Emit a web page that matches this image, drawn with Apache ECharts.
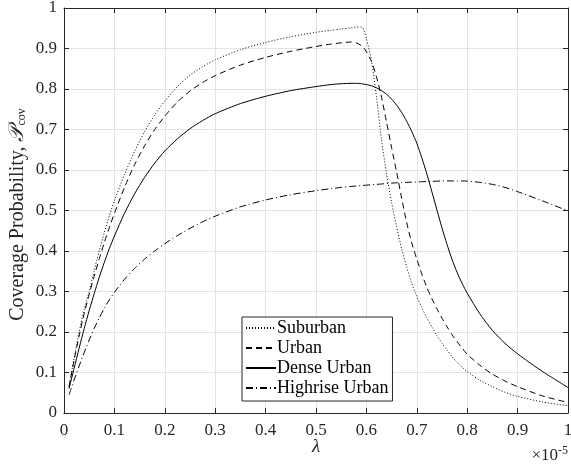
<!DOCTYPE html>
<html>
<head>
<meta charset="utf-8">
<script src="https://cdn.jsdelivr.net/npm/echarts@6/dist/echarts.min.js"></script>
<style>
  html, body { margin: 0; padding: 0; background: #fff; }
  #chart { width: 571px; height: 465px; }
</style>
</head>
<body>
<div id="chart"></div>
<script>
// lambda (x 1e-5)
const lambda = [
  0.01, 0.02, 0.03, 0.04, 0.05, 0.06, 0.07, 0.08, 0.09, 0.1,
  0.12, 0.14, 0.16, 0.18, 0.2, 0.225, 0.25, 0.275, 0.3,
  0.35, 0.4, 0.45, 0.5, 0.53, 0.55, 0.57, 0.58, 0.59, 0.595,
  0.6, 0.61, 0.62, 0.63, 0.64, 0.65, 0.66, 0.67, 0.68, 0.69,
  0.7, 0.71, 0.72, 0.73, 0.74, 0.75, 0.76, 0.77, 0.78, 0.79,
  0.8, 0.825, 0.85, 0.875, 0.9, 0.95, 1.0,
];

const suburban = [
  0.065, 0.135, 0.2, 0.255, 0.30, 0.352, 0.401, 0.446, 0.487, 0.524,
  0.589, 0.646, 0.695, 0.736, 0.77, 0.806, 0.834, 0.855, 0.872,
  0.897, 0.915, 0.929, 0.94, 0.945, 0.948, 0.951, 0.953, 0.953, 0.945,
  0.925, 0.87, 0.78, 0.675, 0.59, 0.52, 0.46, 0.405, 0.36, 0.32,
  0.288, 0.26, 0.235, 0.212, 0.191, 0.172, 0.155, 0.139, 0.125, 0.113,
  0.102, 0.081, 0.065, 0.051, 0.041, 0.027, 0.018,
];

const urban = [
  0.065, 0.13, 0.19, 0.245, 0.293, 0.338, 0.381, 0.421, 0.458, 0.493,
  0.557, 0.613, 0.66, 0.70, 0.733, 0.768, 0.795, 0.816, 0.833,
  0.859, 0.878, 0.893, 0.905, 0.911, 0.914, 0.916, 0.914, 0.907, 0.901,
  0.892, 0.868, 0.83, 0.78, 0.718, 0.655, 0.595, 0.53, 0.47, 0.42,
  0.38, 0.343, 0.31, 0.282, 0.257, 0.234, 0.213, 0.193, 0.176, 0.16,
  0.145, 0.118, 0.096, 0.079, 0.065, 0.042, 0.026,
];

const denseUrban = [
  0.06, 0.11, 0.16, 0.208, 0.253, 0.295, 0.335, 0.372, 0.406, 0.437,
  0.493, 0.541, 0.582, 0.617, 0.647, 0.677, 0.702, 0.722, 0.739,
  0.764, 0.782, 0.796, 0.806, 0.811, 0.813, 0.814, 0.814, 0.813, 0.812,
  0.811, 0.808, 0.803, 0.796, 0.787, 0.775, 0.76, 0.742, 0.72, 0.695,
  0.666, 0.63, 0.59, 0.546, 0.501, 0.457, 0.416, 0.379, 0.347, 0.32,
  0.296, 0.245, 0.204, 0.172, 0.146, 0.102, 0.063,
];

const highriseUrban = [
  0.045, 0.081, 0.116, 0.149, 0.18, 0.209, 0.235, 0.2585, 0.2795, 0.298,
  0.33, 0.357, 0.38, 0.40, 0.418, 0.438, 0.456, 0.472, 0.486,
  0.509, 0.526, 0.539, 0.549, 0.554, 0.557, 0.5595, 0.5605, 0.5615, 0.562,
  0.5625, 0.5635, 0.5645, 0.5655, 0.5665, 0.5675, 0.5685, 0.569, 0.5695, 0.57,
  0.5705, 0.571, 0.5715, 0.572, 0.5725, 0.573, 0.573, 0.573, 0.573, 0.573,
  0.5725, 0.5695, 0.5645, 0.557, 0.5465, 0.5235, 0.499,
];

const seriesNames = ["Suburban", "Urban", "Dense Urban", "Highrise Urban"];

const serif = "'Liberation Serif', 'DejaVu Serif', serif";
const axisColor = "#262626";
const fs = 17;

const chart = echarts.init(document.getElementById("chart"));

const pairs = (ys) => lambda.map((x, i) => [x, ys[i]]);

const lineSeries = (name, ys, dash) => ({
  name: name,
  type: "line",
  data: pairs(ys),
  symbol: "none",
  showSymbol: false,
  smooth: 0.25,
  xAxisIndex: 0,
  yAxisIndex: 0,
  lineStyle: {
    color: "#000",
    width: 1,
    type: dash,
  },
  itemStyle: { color: "#000" },
});

const tickLabel = (v) => {
  if (v === 0) return "0";
  if (Math.abs(v - 1) < 1e-9) return "1";
  return v.toFixed(1);
};

const options = {
  backgroundColor: "#fff",
  animation: false,
  grid: {
    left: 64,
    right: 3,
    top: 8,
    bottom: 52,
    containLabel: false,
    outerBoundsMode: "none",
  },
  legend: {
    orient: "vertical",
    left: 242,
    top: 317,
    data: seriesNames,
    itemWidth: 30,
    itemHeight: 14,
    itemGap: 2,
    padding: [2, 4, 4, 3],
    borderColor: axisColor,
    borderWidth: 1,
    backgroundColor: "#fff",
    itemStyle: { opacity: 0, color: "rgba(0,0,0,0)", borderWidth: 0 },
    textStyle: {
      fontFamily: serif,
      fontSize: 18,
      color: "#000",
      padding: [0, 0, 0, -4],
    },
  },
  xAxis: [
    {
      type: "value",
      min: 0,
      max: 1,
      interval: 0.1,
      position: "bottom",
      name: "λ",
      nameLocation: "middle",
      nameGap: 24,
      nameMoveOverlap: false,
      nameTextStyle: {
        fontFamily: serif,
        fontStyle: "italic",
        fontSize: 19,
        color: axisColor,
      },
      axisLine: { lineStyle: { color: axisColor, width: 1 } },
      axisTick: { inside: true, length: 5, lineStyle: { color: axisColor } },
      axisLabel: {
        fontFamily: serif,
        fontSize: fs,
        color: axisColor,
        margin: 9,
        formatter: tickLabel,
      },
      splitLine: { show: true, lineStyle: { color: "#e3e3e3", width: 1 } },
    },
    {
      type: "value",
      min: 0,
      max: 1,
      interval: 0.1,
      position: "top",
      axisLine: { onZero: false, lineStyle: { color: axisColor, width: 1 } },
      axisTick: { inside: true, length: 5, lineStyle: { color: axisColor } },
      axisLabel: { show: false },
      splitLine: { show: false },
    },
  ],
  yAxis: [
    {
      type: "value",
      min: 0,
      max: 1,
      interval: 0.1,
      position: "left",
      name: "Coverage Probability, {p|𝒫}{sub|cov}",
      nameLocation: "middle",
      nameGap: 36,
      nameRotate: 90,
      nameMoveOverlap: false,
      nameTextStyle: {
        fontFamily: serif,
        fontSize: 20,
        color: axisColor,
        padding: [0, 8, 0, 0],
        rich: {
          p: { fontFamily: serif, fontSize: 21, color: axisColor, fontStyle: "italic" },
          sub: {
            fontFamily: serif,
            fontSize: 12,
            color: axisColor,
            verticalAlign: "bottom",
            padding: [8, 0, 0, 1],
          },
        },
      },
      axisLine: { lineStyle: { color: axisColor, width: 1 } },
      axisTick: { inside: true, length: 5, lineStyle: { color: axisColor } },
      axisLabel: {
        fontFamily: serif,
        fontSize: fs,
        color: axisColor,
        margin: 7,
        formatter: tickLabel,
      },
      splitLine: { show: true, lineStyle: { color: "#e3e3e3", width: 1 } },
    },
    {
      type: "value",
      min: 0,
      max: 1,
      interval: 0.1,
      position: "right",
      axisLine: { show: true, onZero: false, lineStyle: { color: axisColor, width: 1 } },
      axisTick: { show: true, inside: true, length: 5, lineStyle: { color: axisColor } },
      axisLabel: { show: false },
      splitLine: { show: false },
    },
  ],
  graphic: [
    {
      type: "text",
      right: 3,
      bottom: 1,
      style: {
        text: "×10{sup|-5}",
        fontFamily: serif,
        fontSize: fs,
        fill: axisColor,
        rich: {
          sup: {
            fontFamily: serif,
            fontSize: 12,
            fill: axisColor,
            verticalAlign: "top",
            padding: [0, 0, 9, 0],
          },
        },
      },
    },
  ],
  series: [
    lineSeries(seriesNames[0], suburban, [1, 2]),
    lineSeries(seriesNames[1], urban, [6, 4]),
    lineSeries(seriesNames[2], denseUrban, "solid"),
    lineSeries(seriesNames[3], highriseUrban, [7, 3, 1, 3]),
  ],
};

chart.setOption(options);
</script>
</body>
</html>
